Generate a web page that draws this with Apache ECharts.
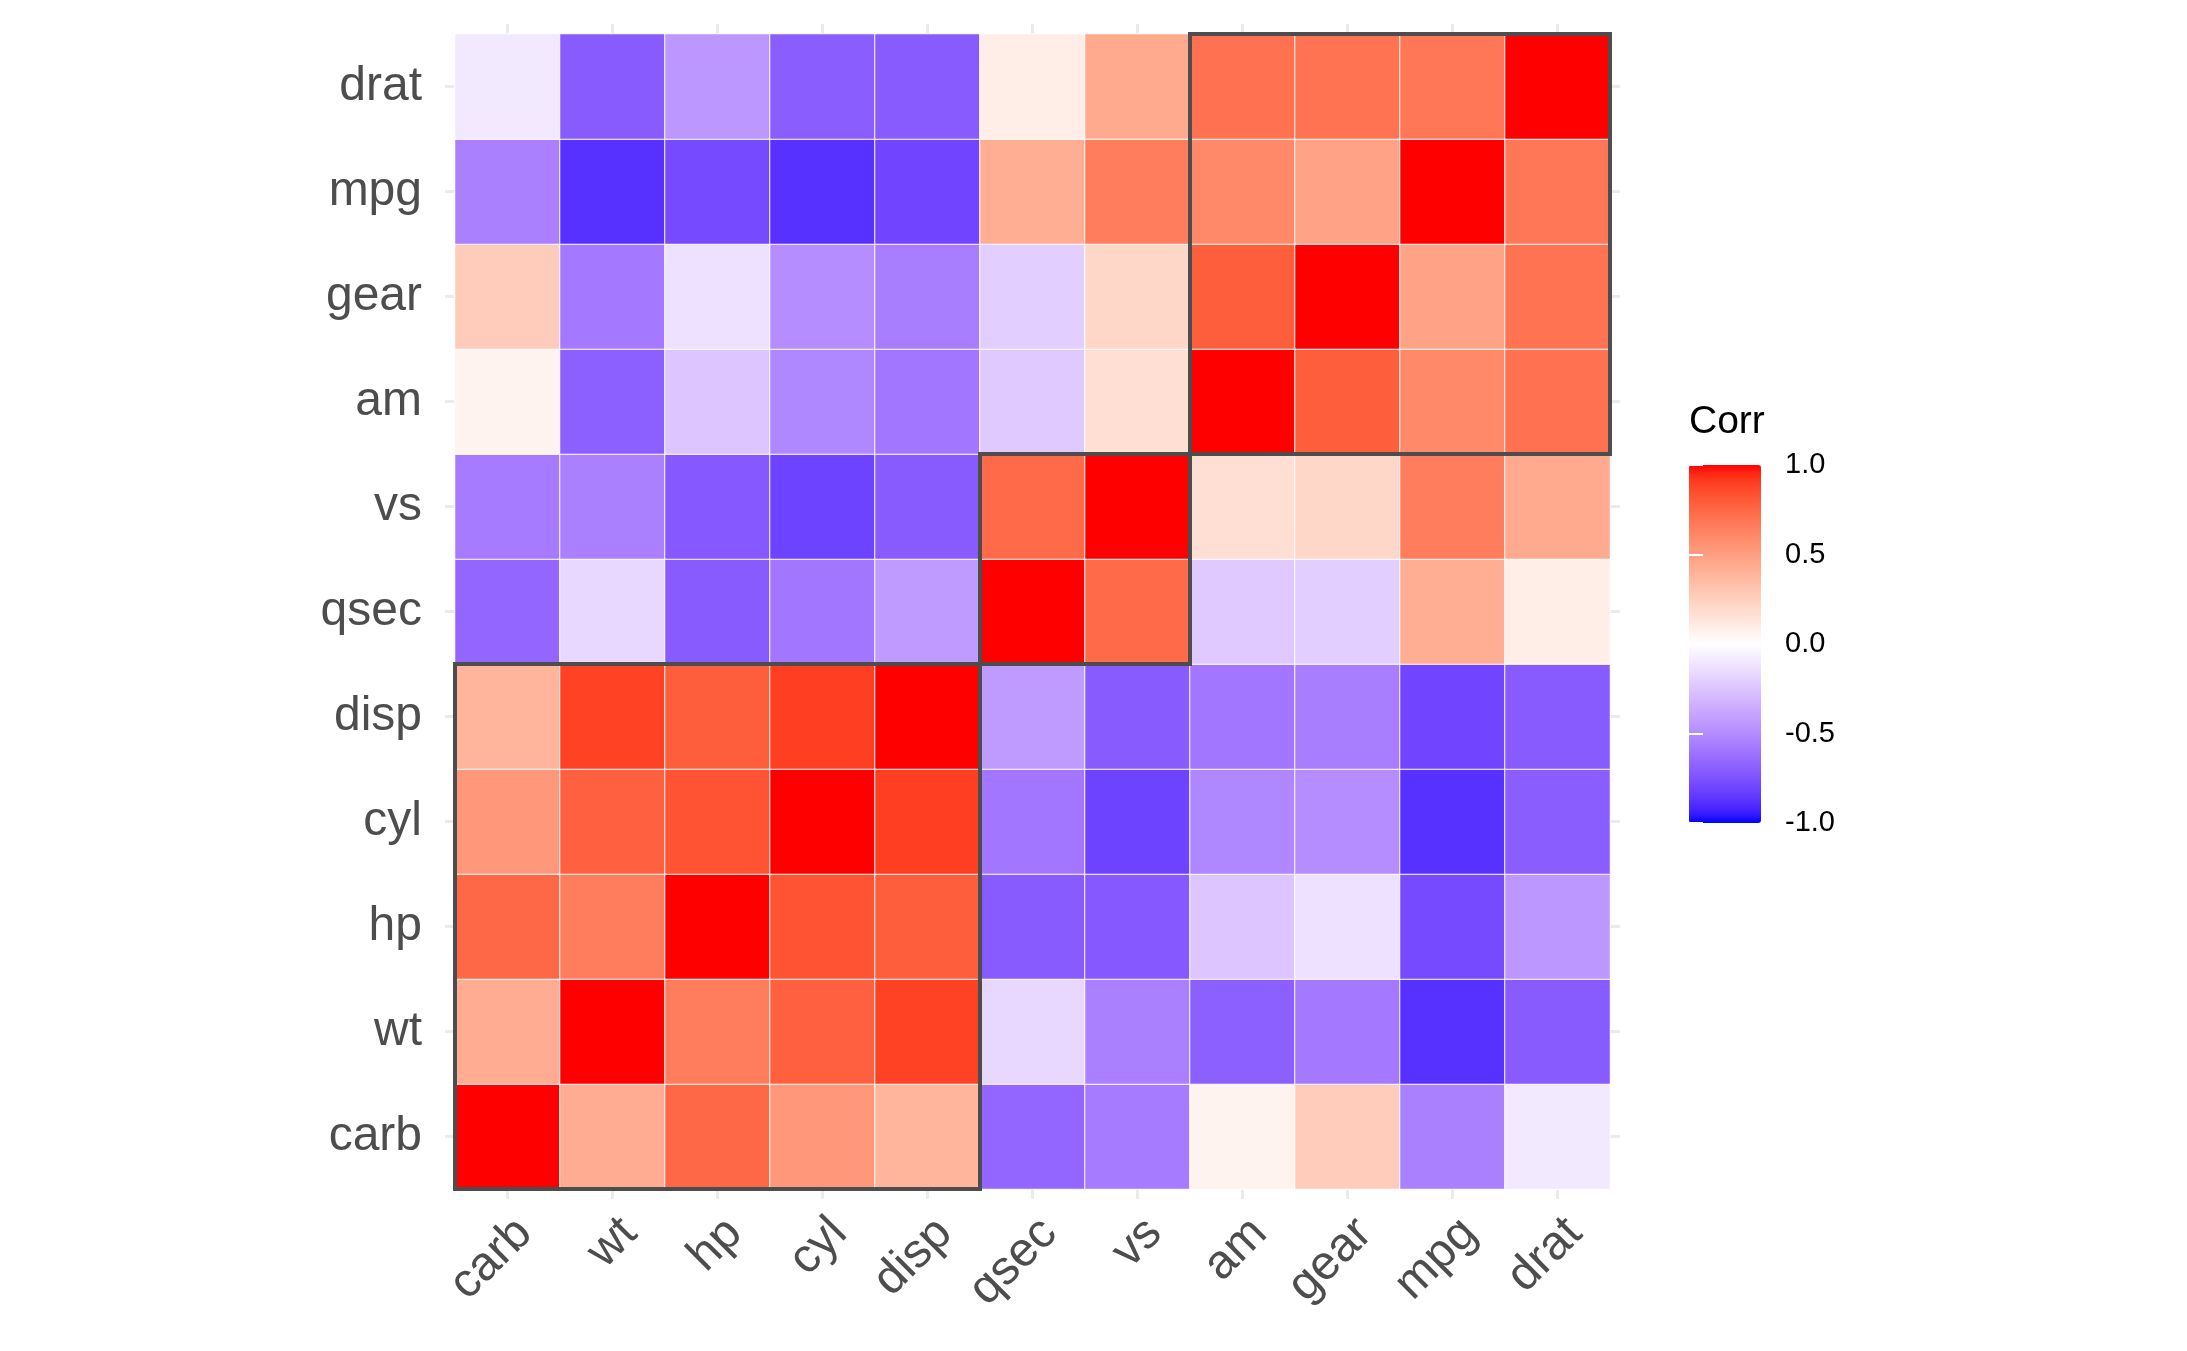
<!DOCTYPE html>
<html>
<head>
<meta charset="utf-8">
<script src="https://cdn.jsdelivr.net/npm/echarts@6/dist/echarts.min.js"></script>
<style>
html,body{margin:0;padding:0;background:#fff;}
#chart{width:2187px;height:1351px;}
</style>
</head>
<body>
<div id="chart"></div>
<script>
// Variable order (hierarchical clustering order), x left->right, y bottom->top
const vars = ['carb', 'wt', 'hp', 'cyl', 'disp', 'qsec', 'vs', 'am', 'gear', 'mpg', 'drat'];

// Correlation rows, each in the order of `vars`
const r_carb = [1.00, 0.43, 0.75, 0.53, 0.39, -0.66, -0.57, 0.06, 0.27, -0.55, -0.09];
const r_wt   = [0.43, 1.00, 0.66, 0.78, 0.89, -0.17, -0.55, -0.69, -0.58, -0.88, -0.71];
const r_hp   = [0.75, 0.66, 1.00, 0.83, 0.79, -0.71, -0.72, -0.24, -0.13, -0.78, -0.45];
const r_cyl  = [0.53, 0.78, 0.83, 1.00, 0.90, -0.59, -0.81, -0.52, -0.49, -0.88, -0.70];
const r_disp = [0.39, 0.89, 0.79, 0.90, 1.00, -0.43, -0.71, -0.59, -0.56, -0.80, -0.71];
const r_qsec = [-0.66, -0.17, -0.71, -0.59, -0.43, 1.00, 0.74, -0.23, -0.21, 0.42, 0.09];
const r_vs   = [-0.57, -0.55, -0.72, -0.81, -0.71, 0.74, 1.00, 0.17, 0.21, 0.66, 0.44];
const r_am   = [0.06, -0.69, -0.24, -0.52, -0.59, -0.23, 0.17, 1.00, 0.79, 0.60, 0.71];
const r_gear = [0.27, -0.58, -0.13, -0.49, -0.56, -0.21, 0.21, 0.79, 1.00, 0.48, 0.70];
const r_mpg  = [-0.55, -0.88, -0.78, -0.88, -0.80, 0.42, 0.66, 0.60, 0.48, 1.00, 0.68];
const r_drat = [-0.09, -0.71, -0.45, -0.70, -0.71, 0.09, 0.44, 0.71, 0.70, 0.68, 1.00];

// Cluster boxes: [first index, last index] in `vars`
const clusters = [[0, 4], [5, 6], [7, 10]];

const rows = [r_carb, r_wt, r_hp, r_cyl, r_disp, r_qsec, r_vs, r_am, r_gear, r_mpg, r_drat];
const heatData = [];
rows.forEach((row, yi) => row.forEach((v, xi) => heatData.push([xi, yi, v])));

// Lab-space diverging gradient blue - white - red (like ggplot2 scale_fill_gradient2)
function lab2hex(L, a, b) {
  const fy = (L + 16) / 116, fx = fy + a / 500, fz = fy - b / 200;
  const inv = t => t > 6 / 29 ? t * t * t : 3 * (6 / 29) * (6 / 29) * (t - 4 / 29);
  const X = 0.95047 * inv(fx), Y = inv(fy), Z = 1.08883 * inv(fz);
  let r = 3.2406 * X - 1.5372 * Y - 0.4986 * Z;
  let g = -0.9689 * X + 1.8758 * Y + 0.0415 * Z;
  let bb = 0.0557 * X - 0.2040 * Y + 1.0570 * Z;
  const gam = v => { v = Math.max(0, Math.min(1, v)); v = v <= 0.0031308 ? 12.92 * v : 1.055 * Math.pow(v, 1 / 2.4) - 0.055; return Math.round(v * 255); };
  return '#' + [gam(r), gam(g), gam(bb)].map(c => c.toString(16).padStart(2, '0')).join('');
}
const LAB_BLUE = [32.30, 79.19, -107.86], LAB_WHITE = [100, 0, 0], LAB_RED = [53.24, 80.09, 67.20];
const gradient = [];
const N = 40;
for (let i = 0; i <= N; i++) {
  const v = -1 + 2 * i / N;
  const from = LAB_WHITE, to = v < 0 ? LAB_BLUE : LAB_RED, t = Math.abs(v);
  gradient.push(lab2hex(from[0] + (to[0] - from[0]) * t, from[1] + (to[1] - from[1]) * t, from[2] + (to[2] - from[2]) * t));
}

const FONT = '"Liberation Sans", Arial, Helvetica, sans-serif';
const GRID_L = 455, GRID_T = 34, SIDE = 1155;
const tickStyle = { show: true, length: 10, alignWithLabel: true, lineStyle: { color: '#EBEBEB', width: 3 } };

const chart = echarts.init(document.getElementById('chart'));
chart.setOption({
  backgroundColor: '#ffffff',
  animation: false,
  title: {
    text: 'Corr', left: 1689, top: 403, padding: 0,
    textStyle: { fontFamily: FONT, fontSize: 39, fontWeight: 'normal', color: '#000000' }
  },
  grid: [
    { left: GRID_L, top: GRID_T, width: SIDE, height: SIDE },
    { left: 1689, top: 465, width: 72, height: 358 }
  ],
  xAxis: [
    {
      type: 'category', data: vars, gridIndex: 0, position: 'bottom',
      axisLine: { show: false }, axisTick: tickStyle, splitLine: { show: false },
      axisLabel: { rotate: 45, fontSize: 48, color: '#4D4D4D', fontFamily: FONT, margin: 20, verticalAlign: 'top' }
    },
    {
      type: 'category', data: vars, gridIndex: 0, position: 'top',
      axisLine: { show: false }, axisTick: tickStyle, axisLabel: { show: false }, splitLine: { show: false }
    },
    { type: 'value', gridIndex: 1, show: false, min: 0, max: 1 }
  ],
  yAxis: [
    {
      type: 'category', data: vars, gridIndex: 0, position: 'left',
      axisLine: { show: false }, axisTick: tickStyle, splitLine: { show: false },
      axisLabel: { fontSize: 48, color: '#4D4D4D', fontFamily: FONT, margin: 33, padding: [6, 0, 0, 0] }
    },
    {
      type: 'category', data: vars, gridIndex: 0, position: 'right',
      axisLine: { show: false }, axisTick: tickStyle, axisLabel: { show: false }, splitLine: { show: false }
    },
    {
      type: 'value', gridIndex: 1, position: 'right', min: -1, max: 1, interval: 0.5, z: 10,
      axisLine: { show: false }, splitLine: { show: false },
      axisTick: { show: true, inside: true, length: 14, lineStyle: { color: '#ffffff', width: 2 } },
      axisLabel: { fontSize: 29, color: '#000000', fontFamily: FONT, margin: 24, padding: [5, 0, 0, 0], formatter: v => v.toFixed(1) }
    },
    {
      type: 'value', gridIndex: 1, position: 'left', min: -1, max: 1, interval: 0.5, z: 10,
      axisLine: { show: false }, splitLine: { show: false }, axisLabel: { show: false },
      axisTick: { show: true, inside: true, length: 14, lineStyle: { color: '#ffffff', width: 2 } }
    }
  ],
  visualMap: {
    type: 'continuous', min: -1, max: 1, seriesIndex: 0, calculable: false, hoverLink: false,
    left: 1689, top: 465, itemWidth: 72, itemHeight: 358, padding: 0, showLabel: false, text: null,
    inRange: { color: gradient }
  },
  series: [
    {
      type: 'heatmap', xAxisIndex: 0, yAxisIndex: 0, data: heatData,
      itemStyle: { borderColor: '#ffffff', borderWidth: 1 },
      emphasis: { disabled: true }
    },
    {
      type: 'custom', xAxisIndex: 0, yAxisIndex: 0, data: clusters, clip: false, z: 5,
      renderItem: function (params, api) {
        const s = api.value(0), e = api.value(1);
        const p1 = api.coord([s, s]), p2 = api.coord([e, e]);
        const sz = api.size([1, 1]);
        const x1 = p1[0] - sz[0] / 2, x2 = p2[0] + sz[0] / 2;
        const y1 = p2[1] - sz[1] / 2, y2 = p1[1] + sz[1] / 2;
        return {
          type: 'rect',
          shape: { x: x1, y: y1, width: x2 - x1, height: y2 - y1 },
          style: { fill: null, stroke: '#4D4D4D', lineWidth: 4 }
        };
      }
    },
    { type: 'scatter', xAxisIndex: 2, yAxisIndex: 2, data: [], silent: true }
  ]
});
</script>
</body>
</html>
